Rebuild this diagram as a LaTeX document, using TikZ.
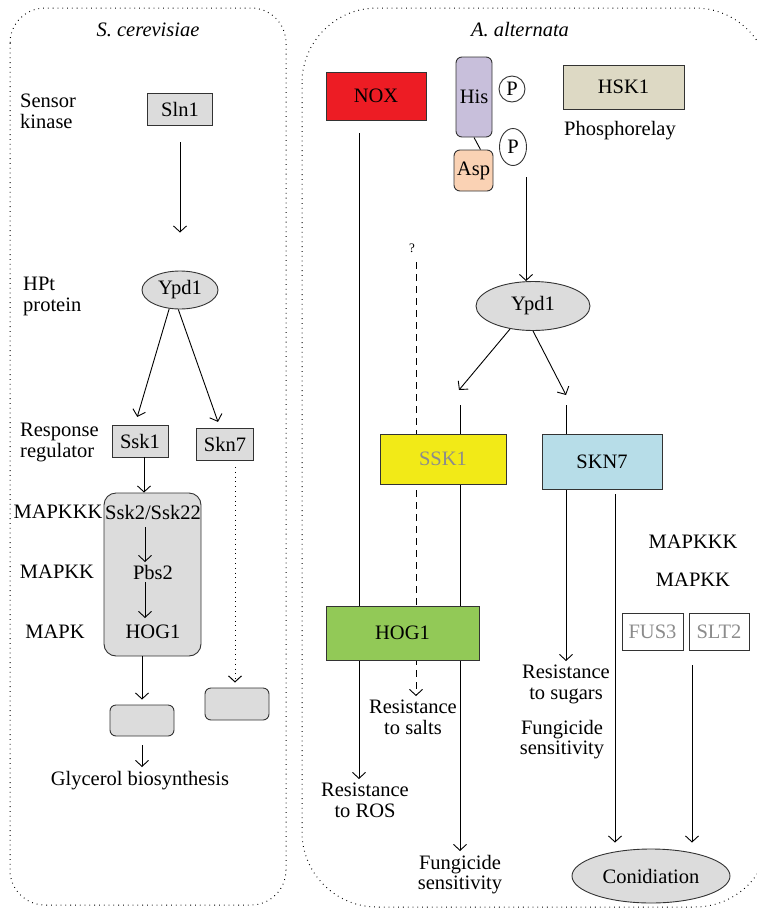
\documentclass[tikz,border=0pt]{standalone}
\usepackage{fontspec}
\setmainfont{Liberation Serif}
\usetikzlibrary{arrows.meta, positioning, shapes.geometric, calc, backgrounds}

\definecolor{boxgray}{HTML}{DCDCDC}
\definecolor{noxred}{HTML}{ED1C24}
\definecolor{hisviolet}{HTML}{C8BFDB}
\definecolor{asppeach}{HTML}{FAD2B4}
\definecolor{hskbeige}{HTML}{DDD9C4}
\definecolor{sskyellow}{HTML}{F2EA17}
\definecolor{sknblue}{HTML}{B7DDE8}
\definecolor{hoggreen}{HTML}{92C957}
\definecolor{greytext}{HTML}{8C8C8C}

\begin{document}
\begin{tikzpicture}[x=1pt,y=-1pt,
    every node/.style={font=\fontsize{20.5}{20.5}\selectfont},
    arr/.style={-{Straight Barb[length=6pt,width=13pt]},line width=0.9pt},
    gbox/.style={draw=black!80,fill=boxgray,line width=0.9pt,inner sep=0pt},
    cbox/.style={draw=black!80,line width=0.9pt,inner sep=0pt},
    lab/.style={align=center,inner sep=4pt,anchor=north},
    side/.style={align=left,inner sep=0pt,anchor=north west},
    dots/.style={line width=1pt,dash pattern=on 0.8pt off 4pt}]
  \useasboundingbox (0,0) rectangle (757,911);

  % Panels
  \draw[dots,rounded corners=35] (10,8) rectangle (286,905);
  \draw[dots,rounded corners=75] (302,8) rectangle (770,907);
  \node (sctitle) at (148,30) {\textit{S. cerevisiae}};
  \node (aatitle) at (520,30) {\textit{A. alternata}};

  % S. cerevisiae pathway
  \node[side] (sensorlab) at (20,94) {Sensor\\kinase};
  \node[side] (hptlab) at (23,277) {HPt\\protein};
  \node[side] (resplab) at (20,423) {Response\\regulator};
  \node (mapkkkL) at (58,512) {MAPKKK};
  \node (mapkkL) at (57,572) {MAPKK};
  \node (mapkL) at (55,632) {MAPK};

  \node[gbox,minimum width=65,minimum height=32] (sln1) at (180,109) {Sln1};
  \node[gbox,ellipse,minimum width=76,minimum height=38] (ypdL) at (180,290) {Ypd1};
  \node[gbox,minimum width=56,minimum height=32] (ssk1) at (140,441) {Ssk1};
  \node[gbox,minimum width=57,minimum height=32] (skn7) at (225,444) {Skn7};
  \node[gbox,rounded corners=12,minimum width=97,minimum height=163] (mapk) at (152.5,574.5) {};
  \node (ssk2) at (153,512) {Ssk2/Ssk22};
  \node (pbs2) at (153,572) {Pbs2};
  \node (hogL) at (153,632) {HOG1};
  \node[gbox,rounded corners=6,minimum width=64,minimum height=31] (glycbox) at (142,720.5) {};
  \node[gbox,rounded corners=6,minimum width=64,minimum height=32] (skbox) at (237,704) {};
  \node[lab] (glycerol) at (140,767) {Glycerol biosynthesis};

  \coordinate (ssk1out) at (144,457);
  \coordinate (skn7out) at (235,467);
  \draw[arr,shorten <=17pt,shorten >=38pt] (sln1) -- (ypdL);
  \draw[arr,shorten >=8pt] (ypdL.240) -- ($(ssk1.north)+(-5,0)$);
  \draw[arr,shorten >=6pt] (ypdL.265) -- ($(skn7.north)+(-5,0)$);
  \draw[arr] (ssk1out) -- (ssk1out |- mapk.north);
  \draw[arr] ($(ssk2)+(-8,15)$) -- ($(pbs2)+(-8,-10)$);
  \draw[arr] ($(pbs2)+(-8,10)$) -- ($(hogL)+(-8,-14)$);
  \draw[arr,shorten >=5pt] (glycbox.north |- mapk.south) -- (glycbox.north);
  \draw[arr,shorten <=9pt] (glycbox.south) -- (glycbox.south |- glycerol.north);
  \draw[arr,dots,shorten >=5pt] (skn7out) -- (skn7out |- skbox.north);

  % A. alternata pathway
  \node[draw=black!80,fill=noxred,line width=0.9pt,inner sep=0pt,minimum width=100,minimum height=48] (nox) at (376,96) {NOX};
  \node[cbox,fill=hisviolet,rounded corners=6,minimum width=36,minimum height=80] (his) at (474,97) {His};
  \node[cbox,fill=asppeach,rounded corners=6,minimum width=39,minimum height=41] (asp) at (473.5,170.5) {Asp};
  \node[cbox,circle,fill=white,minimum size=26] (p1) at (512,89) {P};
  \node[cbox,ellipse,fill=white,minimum width=27,minimum height=37] (p2) at (513,147) {P};
  \node[cbox,fill=hskbeige,minimum width=121,minimum height=44] (hsk1) at (623.5,87) {HSK1};
  \node (phos) at (620,131) {Phosphorelay};
  \node[font=\fontsize{13}{14}\selectfont] (qm) at (412,248) {?};

  \node[gbox,ellipse,minimum width=114,minimum height=49] (ypdR) at (533,306) {Ypd1};
  \node[cbox,fill=sskyellow,minimum width=126,minimum height=50,text=greytext] (sskA) at (443,459) {SSK1};
  \node[cbox,fill=sknblue,minimum width=120,minimum height=55] (sknA) at (602,461.5) {SKN7};
  \node[cbox,fill=hoggreen,minimum width=153,minimum height=54] (hogA) at (402.5,633) {HOG1};
  \node (mapkkkR) at (693,542) {MAPKKK};
  \node (mapkkR) at (693,580) {MAPKK};
  \node[cbox,fill=white,minimum width=61,minimum height=37,text=greytext] (fus3) at (652.5,631.5) {FUS3};
  \node[cbox,fill=white,minimum width=60,minimum height=37,text=greytext] (slt2) at (719,631.5) {SLT2};
  \node[gbox,ellipse,minimum width=158,minimum height=54] (conid) at (651,876) {Conidiation};

  \node[lab] (ros) at (365,779) {Resistance\\to ROS};
  \node[lab] (salts) at (413,696) {Resistance\\to salts};
  \node[lab] (fungA) at (460,851) {Fungicide\\sensitivity};
  \node[lab] (sugars) at (566,661) {Resistance\\to sugars};
  \node[lab] (fungB) at (562,716) {Fungicide\\sensitivity};

  \coordinate (noxout) at (359,133);
  \coordinate (hisout) at (526,177);
  \coordinate (qout) at (416,262);
  \coordinate (sskarr) at (459,390);
  \coordinate (sknarr) at (566,395);
  \coordinate (sskin) at (460,405);
  \coordinate (sknin) at (566,405);
  \coordinate (sknout) at (615,494);
  \coordinate (sltout) at (692,665);

  \begin{scope}[on background layer]
    \draw[line width=0.9pt] (his.south) -- ($(asp.north)+(7,0)$);
    \draw[arr] (noxout) -- (noxout |- ros.north);
    \draw[arr,dash pattern=on 7pt off 5pt] (qout) -- (qout |- salts.north);
    \draw[arr] (hisout) -- (hisout |- ypdR.north);
    \draw[arr] (ypdR.225) -- (sskarr);
    \draw[arr] (ypdR.south) -- (sknarr);
    \draw[arr] (sskin) -- (sskin |- fungA.north);
    \draw[arr] (sknin) -- (sknin |- sugars.north);
    \draw[arr,shorten >=6pt] (sknout) -- (sknout |- conid.north);
    \draw[arr,shorten >=6pt] (sltout) -- (sltout |- conid.north);
  \end{scope}
\end{tikzpicture}
\end{document}
